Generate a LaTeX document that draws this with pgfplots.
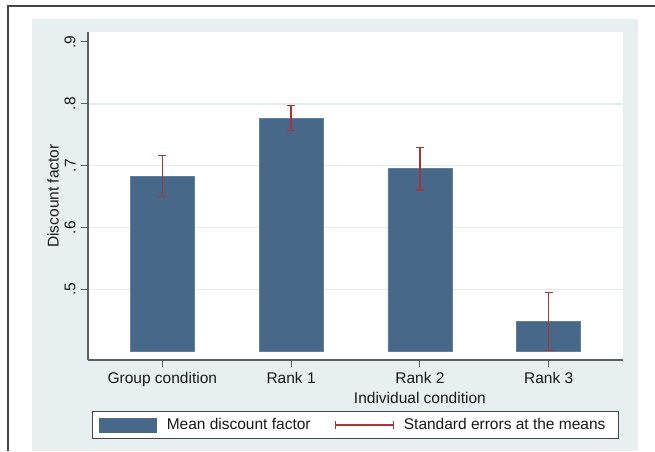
\documentclass[border=0pt]{standalone}
\usepackage{fontspec}
\setmainfont{Liberation Sans}
\usepackage{pgfplots}
\pgfplotsset{compat=1.18}
\usepackage{pgfplotstable}

\definecolor{barblue}{RGB}{72,104,138}
\definecolor{errred}{RGB}{163,52,58}
\definecolor{panel}{RGB}{232,239,241}
\definecolor{gridc}{RGB}{228,236,239}
\definecolor{axisc}{RGB}{95,95,95}
\definecolor{framec}{RGB}{70,70,70}
\definecolor{txt}{RGB}{25,25,25}

% mean discount factor and its standard error
\pgfplotstableread{
x mean se
0 0.683 0.033
1 0.777 0.020
2 0.695 0.034
3 0.448 0.047
}\discount

\begin{document}
\fontsize{15.5}{20}\selectfont
\begin{tikzpicture}
\useasboundingbox (0pt,0pt) rectangle (655pt,451pt);
\fill[white] (0pt,0pt) rectangle (655pt,451pt);
\fill[panel] (32pt,0pt) rectangle (638pt,432pt);
\draw[framec, line width=1.5pt] (8pt,0pt) -- (8pt,445pt) -- (655pt,445pt);
\begin{axis}[
  at={(88pt,91pt)}, anchor=south west,
  scale only axis, width=535pt, height=328pt,
  axis background/.style={fill=white},
  xmin=-0.577, xmax=3.577, ymin=0.386, ymax=0.916,
  y coord trafo/.code={\pgfmathparse{#1-0.4}},
  y coord inv trafo/.code={\pgfmathparse{#1+0.4}},
  axis x line*=bottom, axis y line*=left,
  axis line style={axisc, line width=1.2pt},
  tick align=outside, major tick length=7pt,
  tick style={axisc, line width=1pt},
  xtick={0,1,2,3},
  xticklabels={Group condition, Rank 1, {Rank 2\\Individual condition}, Rank 3},
  xticklabel style={align=center, txt},
  ytick={0.5,0.6,0.7,0.8},
  yticklabels={.5,.6,.7,.8},
  extra y ticks={0.9},
  extra y tick labels={.9},
  extra y tick style={grid=none},
  yticklabel style={rotate=90, anchor=south, txt},
  ymajorgrids,
  major grid style={gridc, line width=1.5pt},
  ylabel={Discount factor},
  ylabel style={at={(axis description cs:-0.0654,0.5)}, anchor=center, txt},
  /pgf/number format/assume math mode=true,
  legend style={at={(axis description cs:0.5,-0.1546)}, anchor=north,
    draw=framec, line width=0.8pt, fill=white,
    inner xsep=6.5pt, inner ysep=5pt, column sep=0pt,
    nodes={inner xsep=0pt, inner ysep=2pt, anchor=west, text=txt}},
  legend columns=2,
  legend cell align=left,
]
\addplot[ybar, bar width=64pt, fill=barblue, draw=barblue!85!white, line width=0.6pt,
  legend image code/.code={
    \fill[barblue] (0pt,-7pt) rectangle (57pt,7pt);
    \path (67pt,0pt);},
  error bars/.cd, y dir=both, y explicit,
  error bar style={errred, line width=1.5pt},
  error mark options={errred, rotate=90, mark size=4pt, line width=1.4pt}]
  table[x=x, y=mean, y error=se] {\discount};
\addlegendentry{\makebox[168pt][l]{Mean discount factor}}
\addlegendimage{legend image code/.code={
  \draw[errred, line width=1.4pt] (0pt,0pt) -- (58pt,0pt);
  \draw[errred, line width=1.2pt] (0pt,-4pt) -- (0pt,4pt) (58pt,-4pt) -- (58pt,4pt);
  \path (68pt,0pt);}}
\addlegendentry{\makebox[208pt][l]{Standard errors at the means}}
\end{axis}
\end{tikzpicture}
\end{document}
